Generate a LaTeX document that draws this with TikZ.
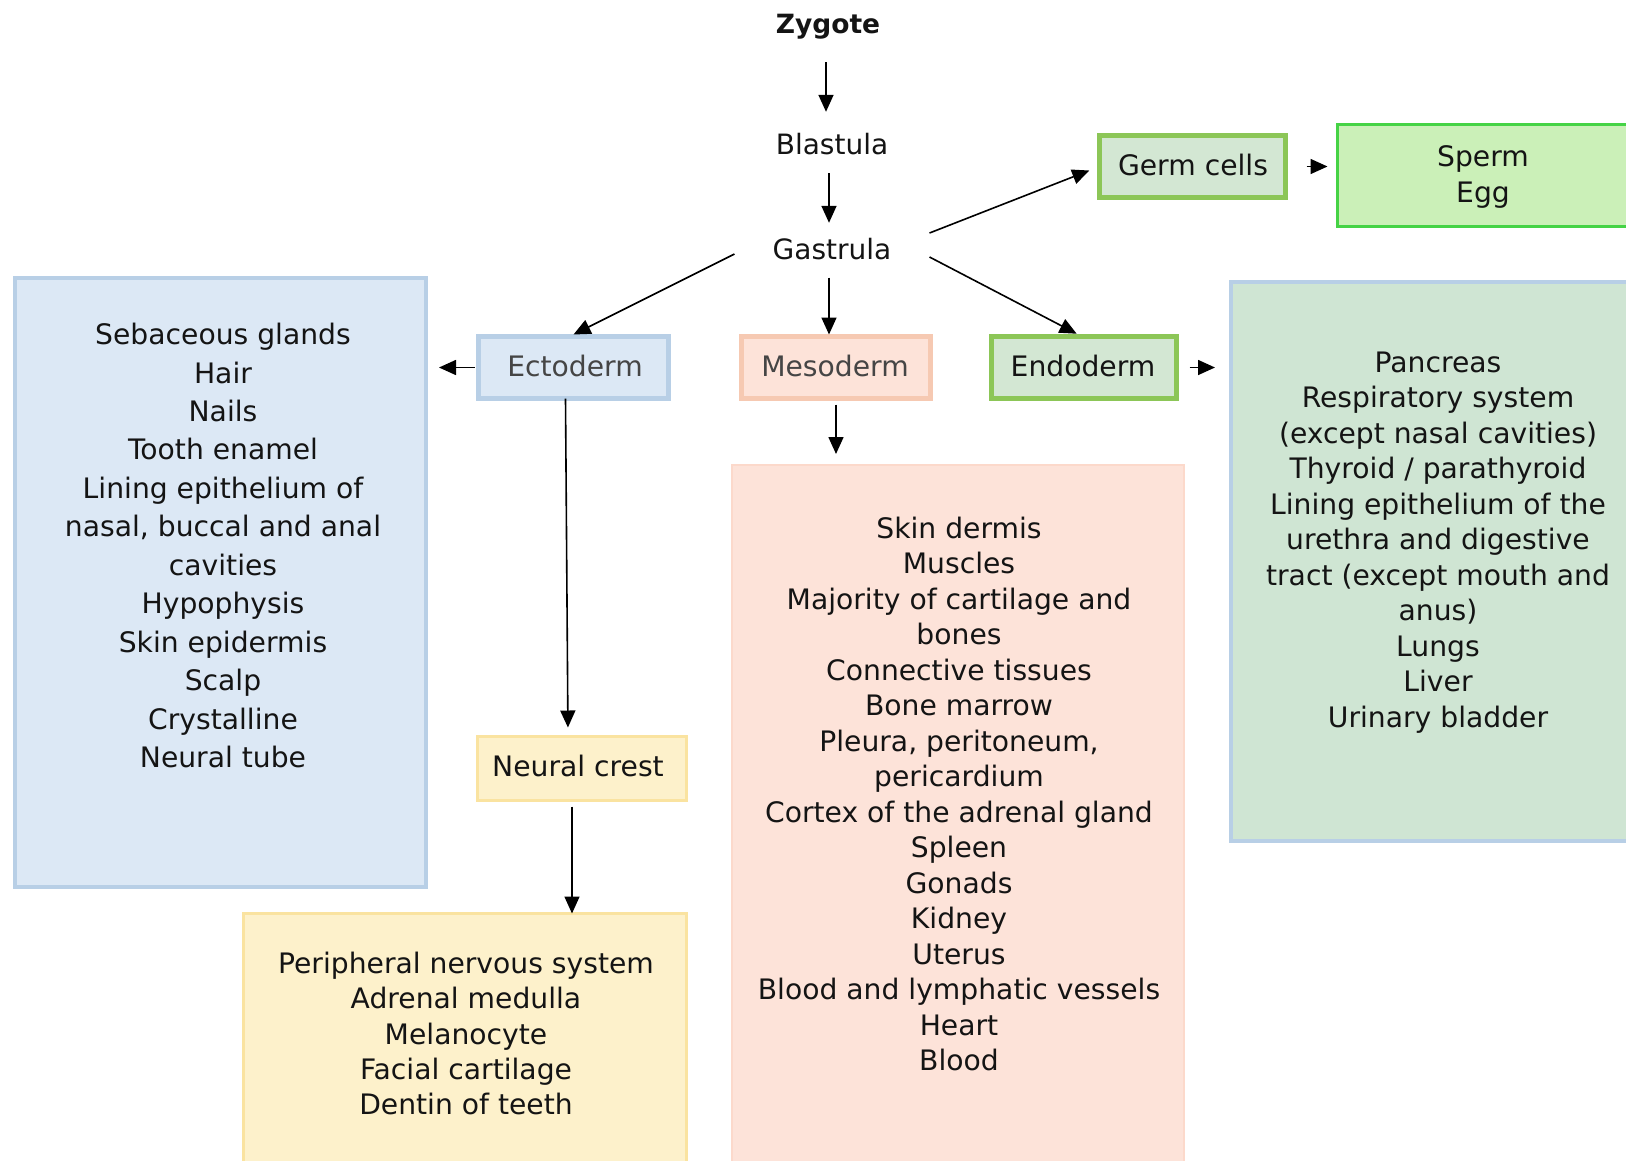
\documentclass[tikz,border=0pt]{standalone}
\usepackage{fontspec}
\setmainfont{DejaVu Sans}
\usetikzlibrary{arrows.meta}
\definecolor{bluefill}{HTML}{DCE8F5}
\definecolor{blueedge}{HTML}{B8CFE6}
\definecolor{pinkfill}{HTML}{FDE3D9}
\definecolor{pinkedge}{HTML}{F6C9B2}
\definecolor{pinkpanel}{HTML}{FCD9CB}
\definecolor{greenfill}{HTML}{D3E7D3}
\definecolor{greenedge}{HTML}{8CC657}
\definecolor{limefill}{HTML}{CBF0B8}
\definecolor{limeedge}{HTML}{45D345}
\definecolor{rightfill}{HTML}{CFE5D3}
\definecolor{yellowfill}{HTML}{FDF1CB}
\definecolor{yellowedge}{HTML}{FAE3A0}
\definecolor{ink}{HTML}{141414}
\definecolor{grayink}{HTML}{454545}
\begin{document}
\begin{tikzpicture}[x=1pt,y=-1pt,
  panel/.style={rectangle, inner sep=0pt, outer sep=0pt},
  txt/.style={font=\fontsize{28.2}{35.5}\selectfont, align=center, text=ink, inner sep=0pt},
  lbl/.style={font=\fontsize{28}{34}\selectfont, text=ink, inner sep=0pt, text height=21pt, text depth=6pt},
  arr/.style={-{Triangle[length=17pt,width=15pt]}, line width=1.6pt, draw=black},
  bluebox/.style={panel, fill=bluefill, draw=blueedge, line width=4pt},
  greenbox/.style={panel, fill=greenfill, draw=greenedge, line width=5pt},
  pinkbox/.style={panel, fill=pinkfill, draw=pinkedge, line width=5pt},
  yellowbox/.style={panel, fill=yellowfill, draw=yellowedge, line width=3pt}
]
\clip (0,0) rectangle (1626,1160);
\fill[white] (0,0) rectangle (1626,1160);

% top labels
\node[lbl, font=\fontsize{26.5}{32}\selectfont\bfseries] (zyg) at (828,26) {Zygote};
\node[lbl] (bla) at (832,147) {Blastula};
\node[lbl, inner xsep=38pt] (gas) at (832,252) {Gastrula};

% panels
\node[bluebox, minimum width=411pt, minimum height=609pt] (ectobox) at (220.5,582.5) {};
\node[bluebox, line width=5pt, minimum width=190pt, minimum height=62pt] (ecto) at (573.5,367.5) {};
\node[pinkbox, minimum width=189pt, minimum height=62pt] (meso) at (836,367.5) {};
\node[greenbox, minimum width=185pt, minimum height=62pt] (endo) at (1084,367.5) {};
\node[greenbox, minimum width=186pt, minimum height=62pt] (germ) at (1192.5,166.5) {};
\node[panel, fill=limefill, draw=limeedge, line width=3.5pt, minimum width=321pt, minimum height=102pt] (sperm) at (1498,175.5) {};
\node[panel, fill=rightfill, draw=blueedge, line width=4pt, minimum width=427pt, minimum height=559pt] (endobox) at (1444.5,561.5) {};
\node[panel, fill=pinkfill, draw=pinkpanel, line width=2pt, minimum width=452pt, minimum height=714pt] (mesobox) at (958,822) {};
\node[yellowbox, minimum width=209pt, minimum height=64pt] (neural) at (582,768.5) {};
\node[yellowbox, minimum width=443pt, minimum height=265pt] (crestbox) at (465,1046) {};

% box labels
\node[txt, text=grayink] at (575,366) {Ectoderm};
\node[txt, text=grayink] at (835,366) {Mesoderm};
\node[txt] at (1083,366) {Endoderm};
\node[txt] at (1193,165) {Germ cells};
\node[txt] at (1483,177) {Sperm\\Egg};
\node[txt] at (578,766) {Neural crest};

% lists
\node[txt, font=\fontsize{28.2}{38.45}\selectfont] at (223,545.5) {Sebaceous glands\\Hair\\Nails\\Tooth enamel\\Lining epithelium of\\nasal, buccal and anal\\cavities\\Hypophysis\\Skin epidermis\\Scalp\\Crystalline\\Neural tube};
\node[txt] at (959,794) {Skin dermis\\Muscles\\Majority of cartilage and\\bones\\Connective tissues\\Bone marrow\\Pleura, peritoneum,\\pericardium\\Cortex of the adrenal gland\\Spleen\\Gonads\\Kidney\\Uterus\\Blood and lymphatic vessels\\Heart\\Blood};
\node[txt] at (1438,542.5) {Pancreas\\Respiratory system\\(except nasal cavities)\\Thyroid / parathyroid\\Lining epithelium of the\\urethra and digestive\\tract (except mouth and\\anus)\\Lungs\\Liver\\Urinary bladder};
\node[txt, font=\fontsize{28.2}{35.3}\selectfont] at (466,1033.5) {Peripheral nervous system\\Adrenal medulla\\Melanocyte\\Facial cartilage\\Dentin of teeth};

% connectors
\draw[arr, shorten <=22.5pt, shorten >=21.5pt] (zyg.south -| 826,0) -- (bla.north -| 826,0);
\draw[arr, shorten <=12.5pt, shorten >=15.5pt] (bla.south -| 829,0) -- (gas.north -| 829,0);
\draw[arr] ([yshift=-2pt]gas.west) -- ([yshift=2pt]ecto.north);
\draw[arr, shorten >=11pt] ([yshift=19pt]gas.east) -- (germ.west);
\draw[arr, shorten >=6pt] ([yshift=-5pt]gas.east) -- ([xshift=-2pt]endo.north);
\draw[arr, shorten <=12pt, shorten >=2pt] (gas.south -| 829,0) -- (meso.north -| 829,0);
\draw[arr, shorten <=4pt, shorten >=13pt] (ecto.west) -- (ectobox.east |- ecto.west);
\draw[arr, shorten >=9pt] ([xshift=-8pt]ecto.south) -- ([xshift=-14pt]neural.north);
\draw[arr, shorten <=6pt, shorten >=0pt] ([xshift=-10pt]neural.south) -- ([xshift=-10pt]neural.south |- crestbox.north);
\draw[arr, shorten <=6pt, shorten >=11pt] (meso.south) -- (meso.south |- mesobox.north);
\draw[arr, shorten <=13pt, shorten >=16pt] (endo.east) -- (endobox.west |- endo.east);
\draw[arr, shorten <=21pt, shorten >=10pt] (germ.east) -- (sperm.west |- germ.east);
\end{tikzpicture}
\end{document}
